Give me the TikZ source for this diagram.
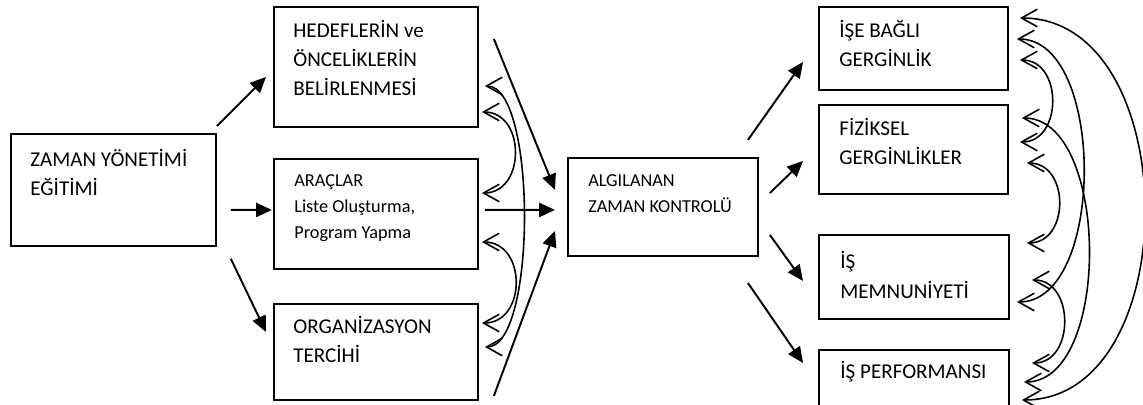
\documentclass[tikz,border=0pt]{standalone}
\usepackage{fontspec}
\setmainfont{Carlito}
\usetikzlibrary{arrows.meta,calc}
\begin{document}
\begin{tikzpicture}[x=0.02cm,y=-0.02cm,
	box/.style={draw,line width=1.1pt,anchor=north west,inner sep=0pt},
	big/.style={anchor=base west,align=left,inner sep=0pt,font=\fontsize{12pt}{16.6pt}\selectfont},
	small/.style={anchor=base west,align=left,inner sep=0pt,font=\fontsize{10.4pt}{15pt}\selectfont},
	arr/.style={line width=1.1pt,-{Triangle[length=9pt,width=8pt]}},
	barb/.style={line width=0.9pt,{Straight Barb[length=9pt,width=10pt]}-{Straight Barb[length=9pt,width=10pt]}}]
	\useasboundingbox (0,0) rectangle (1143,405);
	\clip (0,0) rectangle (1143,405);
	\node[box,minimum width=4.1cm,minimum height=2.24cm] (zaman) at (10,133) {};
	\node[box,minimum width=4.08cm,minimum height=2.4cm] (hedef) at (273,6) {};
	\node[box,minimum width=4.08cm,minimum height=2.2cm] (arac) at (273,158) {};
	\node[box,minimum width=4.08cm,minimum height=1.92cm] (org) at (273,303) {};
	\node[box,minimum width=3.8cm,minimum height=1.96cm] (alg) at (567,157) {};
	\node[box,minimum width=3.78cm,minimum height=1.66cm] (ise) at (818,6) {};
	\node[box,minimum width=3.78cm,minimum height=1.78cm] (fiz) at (818,104) {};
	\node[box,minimum width=3.8cm,minimum height=1.68cm] (memn) at (818,234) {};
	\node[box,minimum width=3.8cm,minimum height=1.4cm] (perf) at (818,349) {};

	\node[big] (zaman-t) at ($(zaman.north west)+(20,63)$) {ZAMAN YÖNETİMİ\\EĞİTİMİ};
	\node[big] (hedef-t) at ($(hedef.north west)+(20,89.6)$) {HEDEFLERİN ve\\ÖNCELİKLERİN\\BELİRLENMESİ};
	\node[small] (arac-t) at ($(arac.north west)+(21,80.9)$) {ARAÇLAR\\Liste Oluşturma,\\Program Yapma};
	\node[big] (org-t) at ($(org.north west)+(20,59.3)$) {ORGANİZASYON\\TERCİHİ};
	\node[small] (alg-t) at ($(alg.north west)+(21,55.5)$) {ALGILANAN\\ZAMAN KONTROLÜ};
	\node[big] (ise-t) at ($(ise.north west)+(21,60.3)$) {İŞE BAĞLI\\GERGİNLİK};
	\node[big] (fiz-t) at ($(fiz.north west)+(21,60.3)$) {FİZİKSEL\\GERGİNLİKLER};
	\node[big] (memn-t) at ($(memn.north west)+(22,64)$) {İŞ\\MEMNUNİYETİ};
	\node[big] (perf-t) at ($(perf.north west)+(22,29)$) {İŞ PERFORMANSI};

	\draw[arr] ($(zaman.north east)+(0,-7)$) -- ($(hedef.west)+(-7,10)$);
	\draw[arr] ($(zaman.east)+(14,20)$) -- ($(arac.west)+(-1,-4)$);
	\draw[arr] ($(zaman.south east)+(14,12)$) -- ($(org.west)+(-7,-20)$);
	\draw[arr] ($(hedef.north east)+(15,33)$) -- ($(alg.west)+(-12,-17)$);
	\draw[arr] ($(arac.east)+(6,-4)$) -- ($(alg.west)+(-12,3)$);
	\draw[arr] ($(org.south east)+(15,-5)$) -- ($(alg.west)+(-12,24)$);
	\draw[arr] ($(alg.north east)+(-11,-17)$) -- ($(ise.west)+(-15,13.5)$);
	\draw[arr] ($(alg.east)+(11,-14)$) -- ($(fiz.west)+(-15,11.5)$);
	\draw[arr] ($(alg.east)+(11,28)$) -- ($(memn.west)+(-15,4)$);
	\draw[arr] ($(alg.south east)+(-11,26)$) -- ($(perf.north west)+(-15,14)$);

	\draw[barb] ($(hedef.north east)+(6,80)$) .. controls +(52,0) and +(52,0) .. ($(org.north east)+(6,44)$);
	\draw[barb] ($(hedef.north east)+(3,106)$) .. controls +(44,0) and +(44,0) .. ($(arac.north east)+(3,35)$);
	\draw[barb] ($(arac.north east)+(3,84)$) .. controls +(45,0) and +(45,0) .. ($(org.north east)+(3,20)$);

	\draw[barb] ($(ise.north east)+(11,12)$) .. controls +(165,0) and +(165,0) .. ($(perf.north east)+(12,51)$);
	\draw[barb] ($(ise.north east)+(8,33)$) .. controls +(89,0) and +(89,0) .. ($(memn.north east)+(7,68)$);
	\draw[barb] ($(ise.north east)+(11,54)$) .. controls +(43,0) and +(43,0) .. ($(fiz.north east)+(11,38)$);
	\draw[barb] ($(fiz.north east)+(13,14)$) .. controls +(88,0) and +(88,0) .. ($(perf.north east)+(14,33)$);
	\draw[barb] ($(fiz.north east)+(18,59)$) .. controls +(43,0) and +(43,0) .. ($(memn.north east)+(17,9)$);
	\draw[barb] ($(memn.north east)+(22,46)$) .. controls +(43,0) and +(43,0) .. ($(perf.north east)+(22,14)$);
\end{tikzpicture}
\end{document}
